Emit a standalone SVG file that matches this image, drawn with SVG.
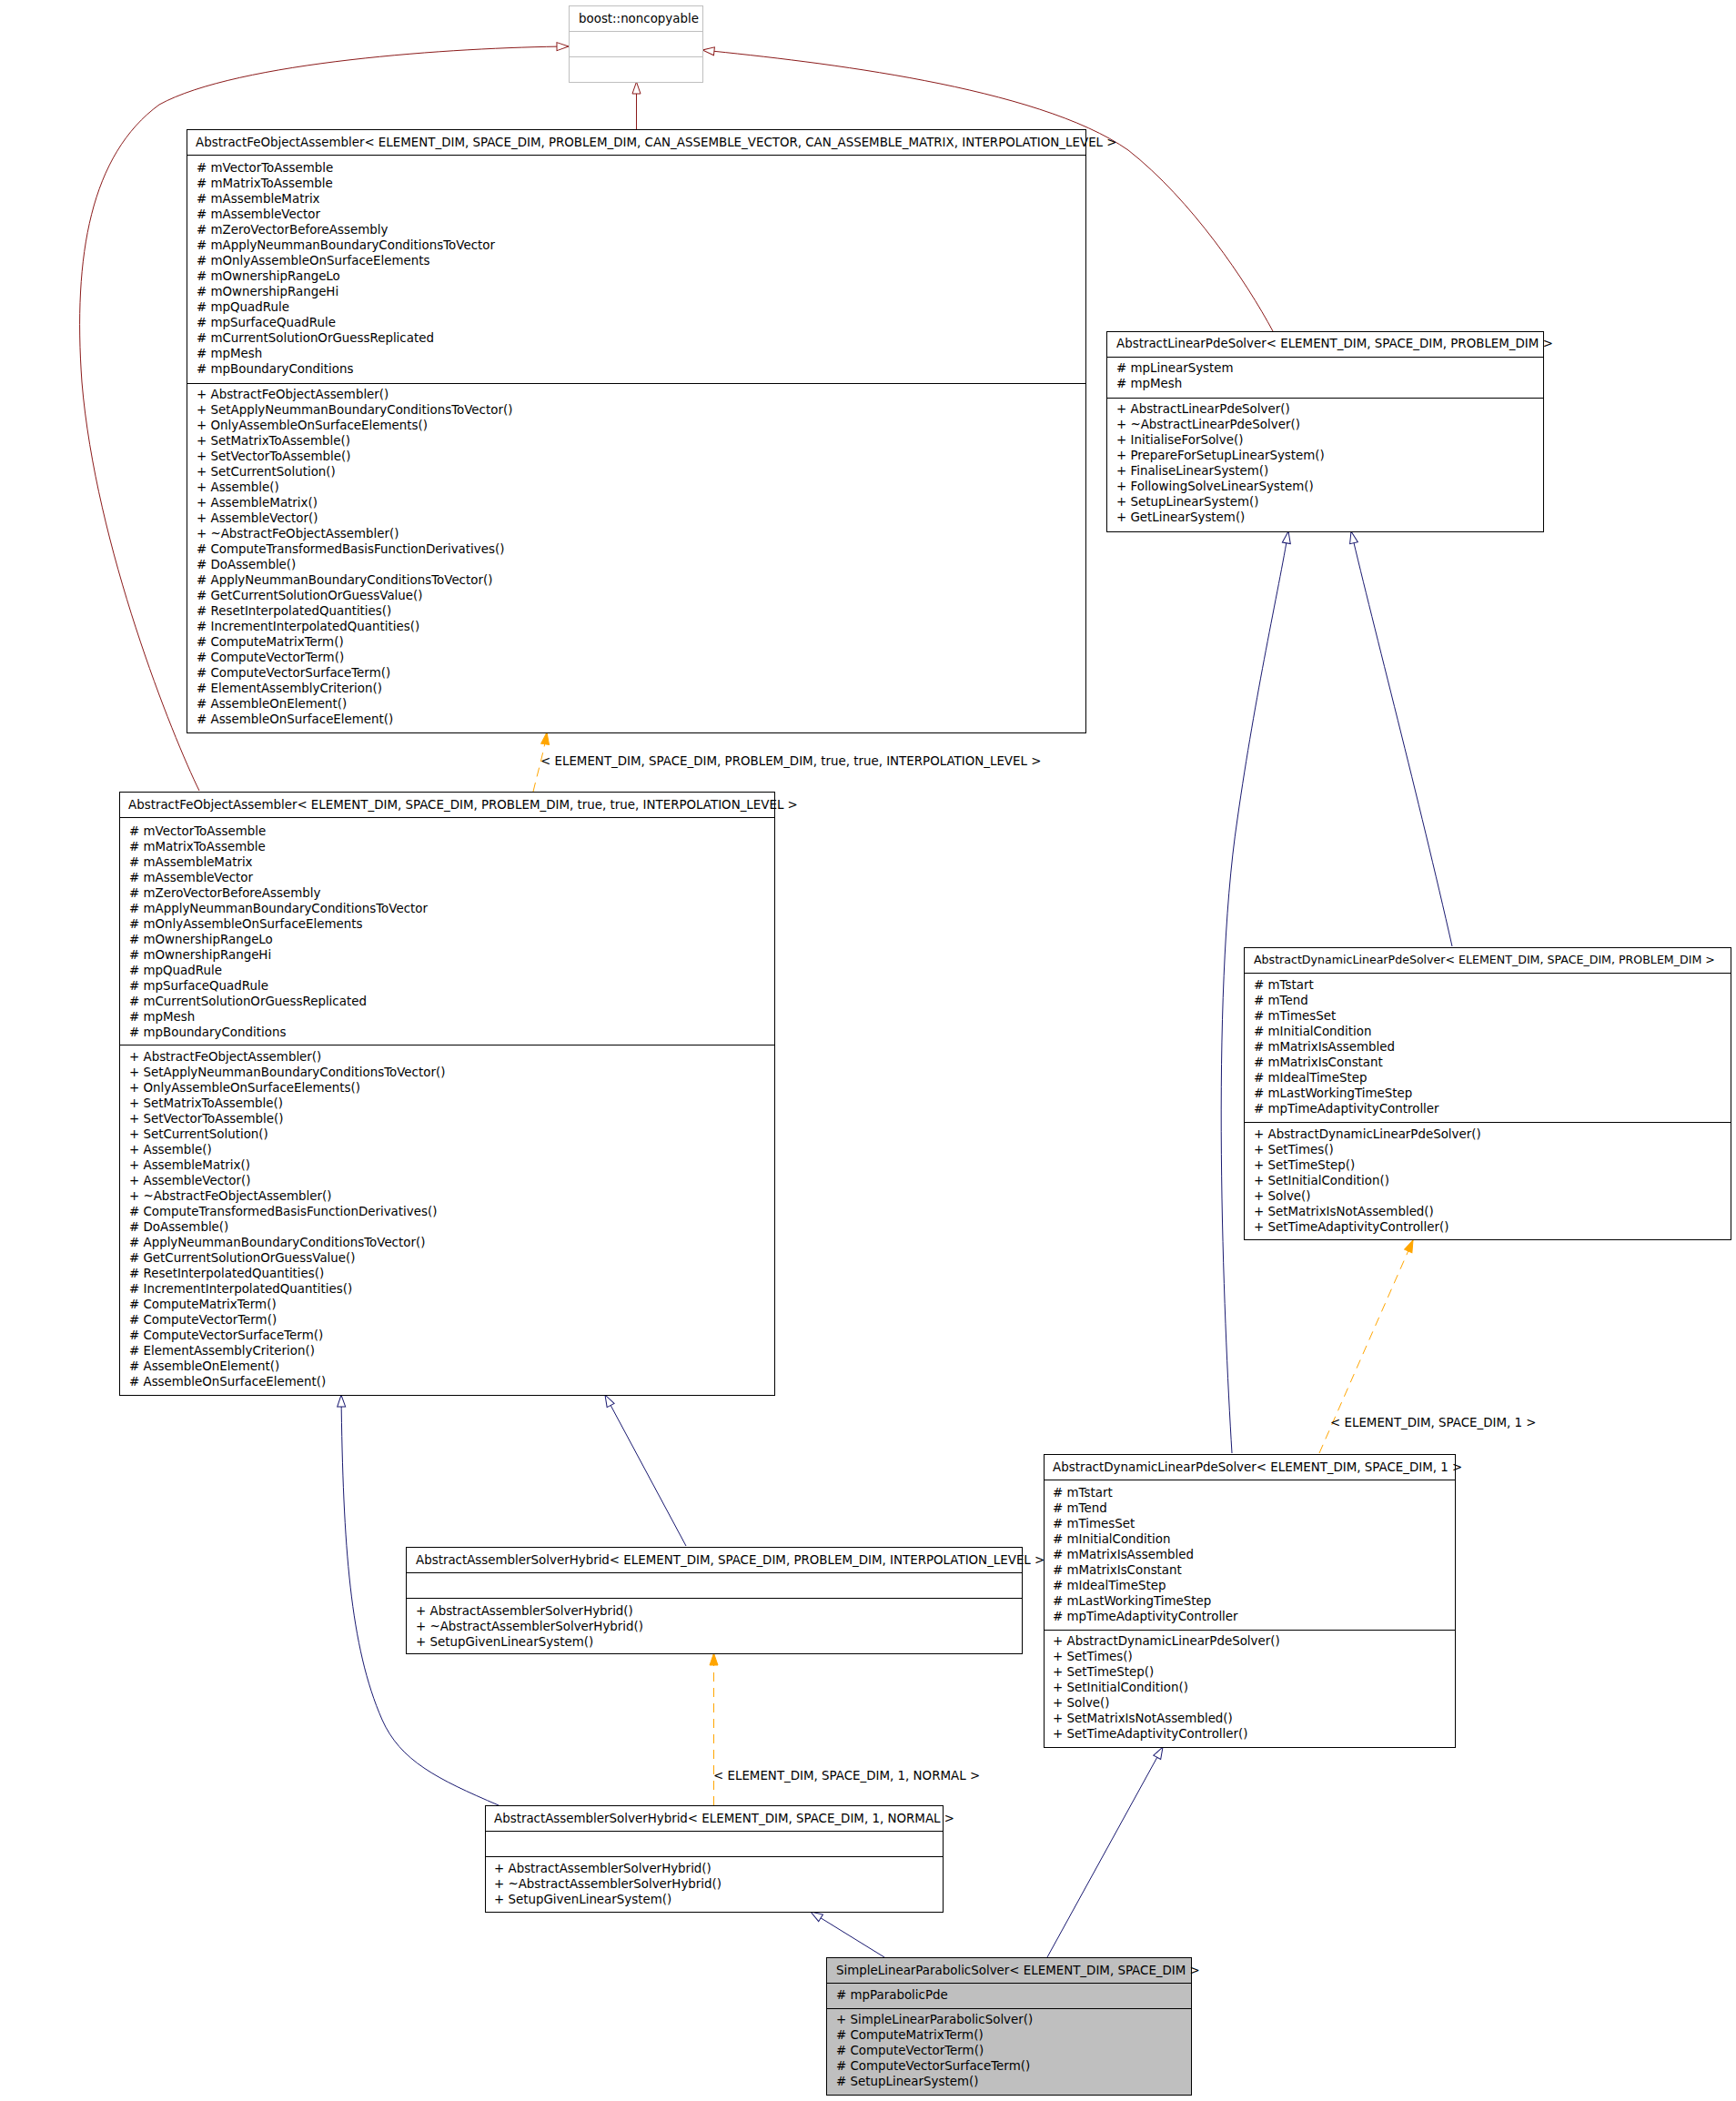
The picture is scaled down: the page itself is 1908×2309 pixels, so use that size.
<svg xmlns="http://www.w3.org/2000/svg" width="1908" height="2309" viewBox="0 0 1908 2309">
<style>
text{font-family:"DejaVu Sans","Liberation Sans",sans-serif;font-size:13.4px;fill:#000}
.box{fill:#fff;stroke:#000;stroke-width:1}
.gbox{fill:#fff;stroke:#bfbfbf;stroke-width:1}
.sel{fill:#bfbfbf;stroke:#000;stroke-width:1}
.sep{stroke:#000;stroke-width:1}
.gsep{stroke:#bfbfbf;stroke-width:1}
.red{fill:none;stroke:#8b1a1a;stroke-width:1}
.blue{fill:none;stroke:#191970;stroke-width:1}
.tmpl{fill:none;stroke:#ffa500;stroke-width:1;stroke-dasharray:10,7}
</style>
<defs>
<marker id="hr" markerWidth="16" markerHeight="12" refX="14" refY="6" orient="auto" markerUnits="userSpaceOnUse" overflow="visible"><path d="M1,1.5 L14,6 L1,10.5 Z" fill="#fff" stroke="#8b1a1a"/></marker>
<marker id="hb" markerWidth="16" markerHeight="12" refX="14" refY="6" orient="auto" markerUnits="userSpaceOnUse" overflow="visible"><path d="M1,1.5 L14,6 L1,10.5 Z" fill="#fff" stroke="#191970"/></marker>
<marker id="fo" markerWidth="16" markerHeight="12" refX="14" refY="6" orient="auto" markerUnits="userSpaceOnUse" overflow="visible"><path d="M1,1.5 L14,6 L1,10.5 Z" fill="#ffa500" stroke="#ffa500"/></marker>
</defs>
<rect width="1908" height="2309" fill="#fff"/>

<g id="connectors">
<path class="red" d="M699.5,142 L699.5,90" marker-end="url(#hr)"/>
<path class="red" d="M219,869 C190,810 105,600 90,420 C80,280 100,170 175,115 C260,68 500,52 625,51" marker-end="url(#hr)"/>
<path class="red" d="M1399,364 C1370,310 1310,220 1240,165 C1140,95 900,68 772,55" marker-end="url(#hr)"/>
<path class="blue" d="M1354,1597 C1345,1450 1330,1100 1360,900 C1380,760 1405,650 1416,584" marker-end="url(#hb)"/>
<path class="blue" d="M1596,1040 C1560,880 1510,690 1485,584" marker-end="url(#hb)"/>
<path class="tmpl" d="M1450,1597 L1553,1363" marker-end="url(#fo)"/>
<text x="1462" y="1568">&lt; ELEMENT_DIM, SPACE_DIM, 1 &gt;</text>
<path class="blue" d="M754,1699 L665,1533" marker-end="url(#hb)"/>
<path class="blue" d="M548,1984 C480,1955 440,1935 420,1890 C385,1810 377,1700 375,1533" marker-end="url(#hb)"/>
<path class="tmpl" d="M784.5,1984 L784.5,1817" marker-end="url(#fo)"/>
<text x="784" y="1956">&lt; ELEMENT_DIM, SPACE_DIM, 1, NORMAL &gt;</text>
<path class="blue" d="M972,2151 L891,2101" marker-end="url(#hb)"/>
<path class="blue" d="M1151,2151 L1278,1920" marker-end="url(#hb)"/>
<path class="tmpl" d="M586,870 C592,845 598,825 601,805" marker-end="url(#fo)"/>
<text x="594" y="841">&lt; ELEMENT_DIM, SPACE_DIM, PROBLEM_DIM, true, true, INTERPOLATION_LEVEL &gt;</text>
</g>

<g id="boost_noncopyable">
<rect class="gbox" x="625.5" y="6.5" width="147" height="84"/>
<line class="gsep" x1="625.5" y1="34.5" x2="772.5" y2="34.5"/>
<line class="gsep" x1="625.5" y1="62.5" x2="772.5" y2="62.5"/>
<text x="636" y="25">boost::noncopyable</text>
</g>

<g id="AbstractFeObjectAssembler_generic">
<rect class="box" x="205.5" y="142.5" width="988" height="663"/>
<line class="sep" x1="205.5" y1="170.5" x2="1193.5" y2="170.5"/>
<line class="sep" x1="205.5" y1="421.5" x2="1193.5" y2="421.5"/>
<text x="215" y="161">AbstractFeObjectAssembler&lt; ELEMENT_DIM, SPACE_DIM, PROBLEM_DIM, CAN_ASSEMBLE_VECTOR, CAN_ASSEMBLE_MATRIX, INTERPOLATION_LEVEL &gt;</text>
<text y="189"><tspan x="216"># mVectorToAssemble</tspan><tspan x="216" dy="17"># mMatrixToAssemble</tspan><tspan x="216" dy="17"># mAssembleMatrix</tspan><tspan x="216" dy="17"># mAssembleVector</tspan><tspan x="216" dy="17"># mZeroVectorBeforeAssembly</tspan><tspan x="216" dy="17"># mApplyNeummanBoundaryConditionsToVector</tspan><tspan x="216" dy="17"># mOnlyAssembleOnSurfaceElements</tspan><tspan x="216" dy="17"># mOwnershipRangeLo</tspan><tspan x="216" dy="17"># mOwnershipRangeHi</tspan><tspan x="216" dy="17"># mpQuadRule</tspan><tspan x="216" dy="17"># mpSurfaceQuadRule</tspan><tspan x="216" dy="17"># mCurrentSolutionOrGuessReplicated</tspan><tspan x="216" dy="17"># mpMesh</tspan><tspan x="216" dy="17"># mpBoundaryConditions</tspan></text>
<text y="438"><tspan x="216">+ AbstractFeObjectAssembler()</tspan><tspan x="216" dy="17">+ SetApplyNeummanBoundaryConditionsToVector()</tspan><tspan x="216" dy="17">+ OnlyAssembleOnSurfaceElements()</tspan><tspan x="216" dy="17">+ SetMatrixToAssemble()</tspan><tspan x="216" dy="17">+ SetVectorToAssemble()</tspan><tspan x="216" dy="17">+ SetCurrentSolution()</tspan><tspan x="216" dy="17">+ Assemble()</tspan><tspan x="216" dy="17">+ AssembleMatrix()</tspan><tspan x="216" dy="17">+ AssembleVector()</tspan><tspan x="216" dy="17">+ ~AbstractFeObjectAssembler()</tspan><tspan x="216" dy="17"># ComputeTransformedBasisFunctionDerivatives()</tspan><tspan x="216" dy="17"># DoAssemble()</tspan><tspan x="216" dy="17"># ApplyNeummanBoundaryConditionsToVector()</tspan><tspan x="216" dy="17"># GetCurrentSolutionOrGuessValue()</tspan><tspan x="216" dy="17"># ResetInterpolatedQuantities()</tspan><tspan x="216" dy="17"># IncrementInterpolatedQuantities()</tspan><tspan x="216" dy="17"># ComputeMatrixTerm()</tspan><tspan x="216" dy="17"># ComputeVectorTerm()</tspan><tspan x="216" dy="17"># ComputeVectorSurfaceTerm()</tspan><tspan x="216" dy="17"># ElementAssemblyCriterion()</tspan><tspan x="216" dy="17"># AssembleOnElement()</tspan><tspan x="216" dy="17"># AssembleOnSurfaceElement()</tspan></text>
</g>

<g id="AbstractLinearPdeSolver">
<rect class="box" x="1216.5" y="364.5" width="480" height="220"/>
<line class="sep" x1="1216.5" y1="392.5" x2="1696.5" y2="392.5"/>
<line class="sep" x1="1216.5" y1="437.5" x2="1696.5" y2="437.5"/>
<text x="1227" y="382">AbstractLinearPdeSolver&lt; ELEMENT_DIM, SPACE_DIM, PROBLEM_DIM &gt;</text>
<text y="409"><tspan x="1227"># mpLinearSystem</tspan><tspan x="1227" dy="17"># mpMesh</tspan></text>
<text y="454"><tspan x="1227">+ AbstractLinearPdeSolver()</tspan><tspan x="1227" dy="17">+ ~AbstractLinearPdeSolver()</tspan><tspan x="1227" dy="17">+ InitialiseForSolve()</tspan><tspan x="1227" dy="17">+ PrepareForSetupLinearSystem()</tspan><tspan x="1227" dy="17">+ FinaliseLinearSystem()</tspan><tspan x="1227" dy="17">+ FollowingSolveLinearSystem()</tspan><tspan x="1227" dy="17">+ SetupLinearSystem()</tspan><tspan x="1227" dy="17">+ GetLinearSystem()</tspan></text>
</g>

<g id="AbstractFeObjectAssembler_true_true">
<rect class="box" x="131.5" y="870.5" width="720" height="663"/>
<line class="sep" x1="131.5" y1="898.5" x2="851.5" y2="898.5"/>
<line class="sep" x1="131.5" y1="1148.5" x2="851.5" y2="1148.5"/>
<text x="141" y="889">AbstractFeObjectAssembler&lt; ELEMENT_DIM, SPACE_DIM, PROBLEM_DIM, true, true, INTERPOLATION_LEVEL &gt;</text>
<text y="918"><tspan x="142"># mVectorToAssemble</tspan><tspan x="142" dy="17"># mMatrixToAssemble</tspan><tspan x="142" dy="17"># mAssembleMatrix</tspan><tspan x="142" dy="17"># mAssembleVector</tspan><tspan x="142" dy="17"># mZeroVectorBeforeAssembly</tspan><tspan x="142" dy="17"># mApplyNeummanBoundaryConditionsToVector</tspan><tspan x="142" dy="17"># mOnlyAssembleOnSurfaceElements</tspan><tspan x="142" dy="17"># mOwnershipRangeLo</tspan><tspan x="142" dy="17"># mOwnershipRangeHi</tspan><tspan x="142" dy="17"># mpQuadRule</tspan><tspan x="142" dy="17"># mpSurfaceQuadRule</tspan><tspan x="142" dy="17"># mCurrentSolutionOrGuessReplicated</tspan><tspan x="142" dy="17"># mpMesh</tspan><tspan x="142" dy="17"># mpBoundaryConditions</tspan></text>
<text y="1166"><tspan x="142">+ AbstractFeObjectAssembler()</tspan><tspan x="142" dy="17">+ SetApplyNeummanBoundaryConditionsToVector()</tspan><tspan x="142" dy="17">+ OnlyAssembleOnSurfaceElements()</tspan><tspan x="142" dy="17">+ SetMatrixToAssemble()</tspan><tspan x="142" dy="17">+ SetVectorToAssemble()</tspan><tspan x="142" dy="17">+ SetCurrentSolution()</tspan><tspan x="142" dy="17">+ Assemble()</tspan><tspan x="142" dy="17">+ AssembleMatrix()</tspan><tspan x="142" dy="17">+ AssembleVector()</tspan><tspan x="142" dy="17">+ ~AbstractFeObjectAssembler()</tspan><tspan x="142" dy="17"># ComputeTransformedBasisFunctionDerivatives()</tspan><tspan x="142" dy="17"># DoAssemble()</tspan><tspan x="142" dy="17"># ApplyNeummanBoundaryConditionsToVector()</tspan><tspan x="142" dy="17"># GetCurrentSolutionOrGuessValue()</tspan><tspan x="142" dy="17"># ResetInterpolatedQuantities()</tspan><tspan x="142" dy="17"># IncrementInterpolatedQuantities()</tspan><tspan x="142" dy="17"># ComputeMatrixTerm()</tspan><tspan x="142" dy="17"># ComputeVectorTerm()</tspan><tspan x="142" dy="17"># ComputeVectorSurfaceTerm()</tspan><tspan x="142" dy="17"># ElementAssemblyCriterion()</tspan><tspan x="142" dy="17"># AssembleOnElement()</tspan><tspan x="142" dy="17"># AssembleOnSurfaceElement()</tspan></text>
</g>

<g id="AbstractDynamicLinearPdeSolver_generic">
<rect class="box" x="1367.5" y="1041.5" width="535" height="321"/>
<line class="sep" x1="1367.5" y1="1069.5" x2="1902.5" y2="1069.5"/>
<line class="sep" x1="1367.5" y1="1233.5" x2="1902.5" y2="1233.5"/>
<text x="1378" y="1059" style="font-size:12.6px">AbstractDynamicLinearPdeSolver&lt; ELEMENT_DIM, SPACE_DIM, PROBLEM_DIM &gt;</text>
<text y="1087"><tspan x="1378"># mTstart</tspan><tspan x="1378" dy="17"># mTend</tspan><tspan x="1378" dy="17"># mTimesSet</tspan><tspan x="1378" dy="17"># mInitialCondition</tspan><tspan x="1378" dy="17"># mMatrixIsAssembled</tspan><tspan x="1378" dy="17"># mMatrixIsConstant</tspan><tspan x="1378" dy="17"># mIdealTimeStep</tspan><tspan x="1378" dy="17"># mLastWorkingTimeStep</tspan><tspan x="1378" dy="17"># mpTimeAdaptivityController</tspan></text>
<text y="1251"><tspan x="1378">+ AbstractDynamicLinearPdeSolver()</tspan><tspan x="1378" dy="17">+ SetTimes()</tspan><tspan x="1378" dy="17">+ SetTimeStep()</tspan><tspan x="1378" dy="17">+ SetInitialCondition()</tspan><tspan x="1378" dy="17">+ Solve()</tspan><tspan x="1378" dy="17">+ SetMatrixIsNotAssembled()</tspan><tspan x="1378" dy="17">+ SetTimeAdaptivityController()</tspan></text>
</g>

<g id="AbstractDynamicLinearPdeSolver_1">
<rect class="box" x="1147.5" y="1598.5" width="452" height="322"/>
<line class="sep" x1="1147.5" y1="1626.5" x2="1599.5" y2="1626.5"/>
<line class="sep" x1="1147.5" y1="1791.5" x2="1599.5" y2="1791.5"/>
<text x="1157" y="1617">AbstractDynamicLinearPdeSolver&lt; ELEMENT_DIM, SPACE_DIM, 1 &gt;</text>
<text y="1645"><tspan x="1157"># mTstart</tspan><tspan x="1157" dy="17"># mTend</tspan><tspan x="1157" dy="17"># mTimesSet</tspan><tspan x="1157" dy="17"># mInitialCondition</tspan><tspan x="1157" dy="17"># mMatrixIsAssembled</tspan><tspan x="1157" dy="17"># mMatrixIsConstant</tspan><tspan x="1157" dy="17"># mIdealTimeStep</tspan><tspan x="1157" dy="17"># mLastWorkingTimeStep</tspan><tspan x="1157" dy="17"># mpTimeAdaptivityController</tspan></text>
<text y="1808"><tspan x="1157">+ AbstractDynamicLinearPdeSolver()</tspan><tspan x="1157" dy="17">+ SetTimes()</tspan><tspan x="1157" dy="17">+ SetTimeStep()</tspan><tspan x="1157" dy="17">+ SetInitialCondition()</tspan><tspan x="1157" dy="17">+ Solve()</tspan><tspan x="1157" dy="17">+ SetMatrixIsNotAssembled()</tspan><tspan x="1157" dy="17">+ SetTimeAdaptivityController()</tspan></text>
</g>

<g id="AbstractAssemblerSolverHybrid_generic">
<rect class="box" x="446.5" y="1700.5" width="677" height="117"/>
<line class="sep" x1="446.5" y1="1728.5" x2="1123.5" y2="1728.5"/>
<line class="sep" x1="446.5" y1="1756.5" x2="1123.5" y2="1756.5"/>
<text x="457" y="1719">AbstractAssemblerSolverHybrid&lt; ELEMENT_DIM, SPACE_DIM, PROBLEM_DIM, INTERPOLATION_LEVEL &gt;</text>
<text y="1775"><tspan x="457">+ AbstractAssemblerSolverHybrid()</tspan><tspan x="457" dy="17">+ ~AbstractAssemblerSolverHybrid()</tspan><tspan x="457" dy="17">+ SetupGivenLinearSystem()</tspan></text>
</g>

<g id="AbstractAssemblerSolverHybrid_1_NORMAL">
<rect class="box" x="533.5" y="1984.5" width="503" height="117"/>
<line class="sep" x1="533.5" y1="2012.5" x2="1036.5" y2="2012.5"/>
<line class="sep" x1="533.5" y1="2040.5" x2="1036.5" y2="2040.5"/>
<text x="543" y="2003">AbstractAssemblerSolverHybrid&lt; ELEMENT_DIM, SPACE_DIM, 1, NORMAL &gt;</text>
<text y="2058"><tspan x="543">+ AbstractAssemblerSolverHybrid()</tspan><tspan x="543" dy="17">+ ~AbstractAssemblerSolverHybrid()</tspan><tspan x="543" dy="17">+ SetupGivenLinearSystem()</tspan></text>
</g>

<g id="SimpleLinearParabolicSolver">
<rect class="sel" x="908.5" y="2151.5" width="401" height="151"/>
<line class="sep" x1="908.5" y1="2179.5" x2="1309.5" y2="2179.5"/>
<line class="sep" x1="908.5" y1="2207.5" x2="1309.5" y2="2207.5"/>
<text x="919" y="2170">SimpleLinearParabolicSolver&lt; ELEMENT_DIM, SPACE_DIM &gt;</text>
<text x="919" y="2197"># mpParabolicPde</text>
<text y="2224"><tspan x="919">+ SimpleLinearParabolicSolver()</tspan><tspan x="919" dy="17"># ComputeMatrixTerm()</tspan><tspan x="919" dy="17"># ComputeVectorTerm()</tspan><tspan x="919" dy="17"># ComputeVectorSurfaceTerm()</tspan><tspan x="919" dy="17"># SetupLinearSystem()</tspan></text>
</g>

</svg>
